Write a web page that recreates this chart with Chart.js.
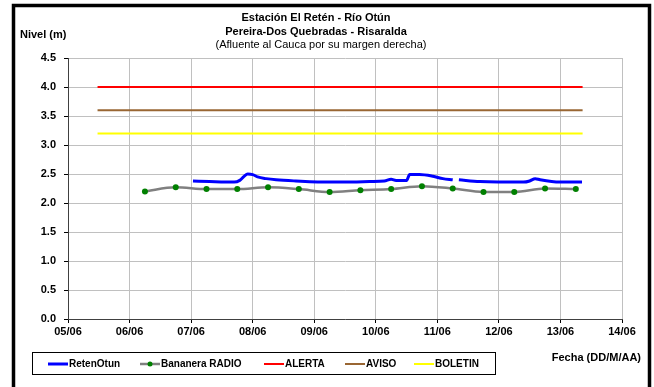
<!DOCTYPE html>
<html>
<head>
<meta charset="utf-8">
<script src="https://cdn.jsdelivr.net/npm/chart.js@4.4.1/dist/chart.umd.min.js"></script>
<style>
  html, body { margin: 0; padding: 0; background: #fff; }
  canvas { display: block; }
</style>
</head>
<body>
<canvas id="chart" width="654" height="387"></canvas>
<script>
// Nivel del rio, estacion El Reten - dias desde 05/06 00:00
const dayLabels = ['05/06', '06/06', '07/06', '08/06', '09/06', '10/06', '11/06', '12/06', '13/06', '14/06'];

const retenDays = [2.03, 2.30, 2.70, 2.79, 2.86, 2.92, 3.00, 3.08, 3.22, 3.38, 3.70, 4.25, 4.62, 4.90, 5.14,
  5.25, 5.33, 5.50, 5.55, 5.71, 5.93, 6.09, 6.25, 6.30, 6.35, 6.69, 7.40, 7.50, 7.59, 7.67, 7.99, 8.35];
const retenLevels = [2.38, 2.37, 2.36, 2.39, 2.46, 2.50, 2.49, 2.45, 2.42, 2.40, 2.38, 2.36, 2.36, 2.37, 2.38,
  2.41, 2.39, 2.39, 2.49, 2.49, 2.46, 2.42, 2.40, null, 2.40, 2.37, 2.36, 2.38, 2.42, 2.40, 2.36, 2.36];

const bananeraDays = [1.25, 1.75, 2.25, 2.75, 3.25, 3.75, 4.25, 4.75, 5.25, 5.75, 6.25, 6.75, 7.25, 7.75, 8.25];
const bananeraLevels = [2.20, 2.27, 2.24, 2.24, 2.27, 2.24, 2.19, 2.22, 2.24, 2.29, 2.25, 2.19, 2.19, 2.25, 2.24];

const thresholdDays = [0.48, 8.36];
const alertaLevel = 4.0;
const avisoLevel = 3.6;
const boletinLevel = 3.2;

const titleLines = ['Estación El Retén - Río Otún', 'Pereira-Dos Quebradas - Risaralda', '(Afluente al Cauca por su margen derecha)'];

const FONT = '"Liberation Sans", Arial, sans-serif';

function points(xs, ys) {
  return xs.map((x, i) => ({ x: x, y: ys[i] }));
}

const series = [
  { label: 'RetenOtun', data: points(retenDays, retenLevels), color: '#0000ff', width: 3 },
  { label: 'Bananera RADIO', data: points(bananeraDays, bananeraLevels), color: '#808080', width: 2.5, dot: '#008000' },
  { label: 'ALERTA', data: points(thresholdDays, [alertaLevel, alertaLevel]), color: '#ff0000', width: 2 },
  { label: 'AVISO', data: points(thresholdDays, [avisoLevel, avisoLevel]), color: '#996633', width: 2 },
  { label: 'BOLETIN', data: points(thresholdDays, [boletinLevel, boletinLevel]), color: '#ffff00', width: 2 }
];

// frame, titles, axis names and legend box
const decorations = {
  id: 'decorations',
  beforeDraw(chart) {
    const ctx = chart.ctx;
    ctx.save();
    ctx.fillStyle = '#fff';
    ctx.fillRect(0, 0, chart.width, chart.height);
    ctx.restore();
  },
  afterDraw(chart) {
    const ctx = chart.ctx;
    ctx.save();

    ctx.strokeStyle = '#000';
    ctx.lineWidth = 3.5;
    ctx.strokeRect(13.5, 5.5, 636, 400);

    ctx.fillStyle = '#000';
    ctx.textAlign = 'center';
    ctx.textBaseline = 'middle';
    ctx.font = 'bold 11px ' + FONT;
    ctx.fillText(titleLines[0], 316, 18);
    ctx.fillText(titleLines[1], 316, 32);
    ctx.font = '11px ' + FONT;
    ctx.fillText(titleLines[2], 321, 45);

    ctx.font = 'bold 11px ' + FONT;
    ctx.textAlign = 'left';
    ctx.fillText('Nivel (m)', 20, 35);
    ctx.textAlign = 'right';
    ctx.fillText('Fecha (DD/M/AA)', 641, 358);

    // legend
    ctx.lineWidth = 1;
    ctx.strokeStyle = '#000';
    ctx.strokeRect(32.5, 352.5, 463, 22);
    ctx.font = 'bold 10px ' + FONT;
    ctx.textAlign = 'left';
    const starts = [48, 140, 264, 345, 414];
    const ly = 364;
    series.forEach((s, i) => {
      const x0 = starts[i];
      ctx.strokeStyle = s.color;
      ctx.lineWidth = s.width;
      ctx.beginPath();
      ctx.moveTo(x0, ly);
      ctx.lineTo(x0 + 20, ly);
      ctx.stroke();
      if (s.dot) {
        ctx.fillStyle = s.dot;
        ctx.beginPath();
        ctx.arc(x0 + 10, ly, 2.5, 0, Math.PI * 2);
        ctx.fill();
      }
      ctx.fillStyle = '#000';
      ctx.fillText(s.label, x0 + 21, ly + 0.5);
    });

    ctx.restore();
  }
};

new Chart(document.getElementById('chart'), {
  type: 'line',
  data: {
    datasets: series.map(s => ({
      label: s.label,
      data: s.data,
      borderColor: s.color,
      borderWidth: s.width,
      backgroundColor: s.dot || s.color,
      pointRadius: s.dot ? 3 : 0,
      pointBorderWidth: 0,
      pointBackgroundColor: s.dot || s.color,
      tension: s.dot ? 0.4 : 0.3,
      cubicInterpolationMode: 'monotone',
      spanGaps: false,
      fill: false
    }))
  },
  options: {
    responsive: false,
    animation: false,
    devicePixelRatio: 1,
    layout: { padding: { left: 12, top: 58, right: 32, bottom: 46 } },
    plugins: {
      legend: { display: false },
      tooltip: { enabled: false }
    },
    scales: {
      x: {
        type: 'linear',
        min: 0,
        max: 9,
        afterFit(scale) { scale.height = 22; },
        afterBuildTicks(scale) { scale.ticks = dayLabels.map((_, i) => ({ value: i })); },
        ticks: {
          autoSkip: false,
          maxRotation: 0,
          padding: 2,
          color: '#000',
          font: { family: FONT, size: 11, weight: 'bold' },
          callback: (v) => dayLabels[v]
        },
        grid: { color: '#c0c0c0', lineWidth: 1, tickLength: 4, tickColor: '#000' },
        border: { color: '#404040', width: 1 }
      },
      y: {
        min: 0,
        max: 4.5,
        afterFit(scale) { scale.width = 56; },
        ticks: {
          stepSize: 0.5,
          padding: 8,
          color: '#000',
          font: { family: FONT, size: 11, weight: 'bold' },
          callback: (v) => v.toFixed(1)
        },
        grid: { color: '#c0c0c0', lineWidth: 1, tickLength: 4, tickColor: '#000' },
        border: { color: '#404040', width: 1 }
      }
    }
  },
  plugins: [decorations]
});
</script>
</body>
</html>
